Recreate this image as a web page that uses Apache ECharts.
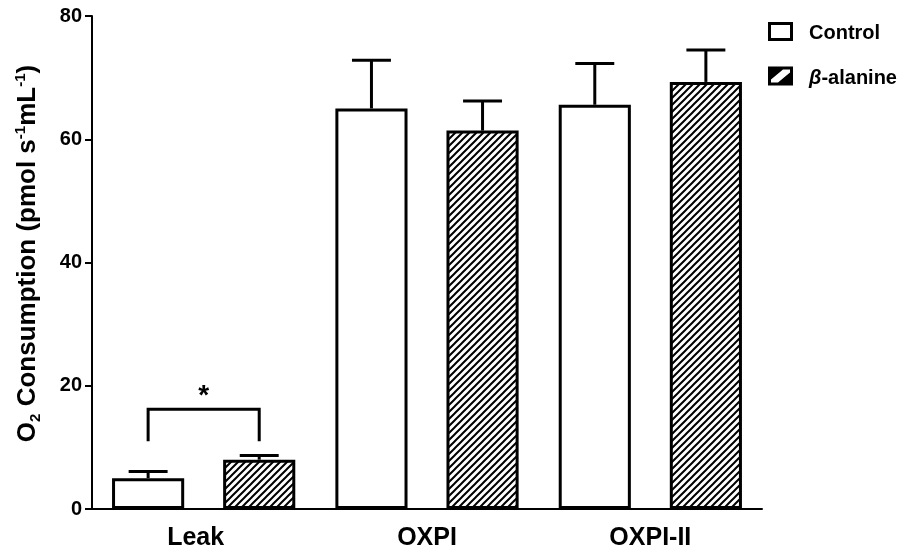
<!DOCTYPE html>
<html>
<head>
<meta charset="utf-8">
<script src="https://cdn.jsdelivr.net/npm/echarts@6/dist/echarts.min.js"></script>
<style>html,body{margin:0;padding:0;background:#fff;}#c{width:900px;height:552px;}</style>
</head>
<body>
<div id="c"></div>
<script>
// ---- data ----
const categories = ['Leak', 'OXPI', 'OXPI-II'];
const controlMean = [5.0, 65.0, 65.6];
const controlErrTop = [6.1, 72.8, 72.3];
const betaMean = [8.0, 61.4, 69.3];
const betaErrTop = [8.7, 66.2, 74.5];
const yTicks = [0, 20, 40, 60, 80];
const sigCategory = [0];
const sigBracketTop = [16.2];
const sigBracketLeg = [11.0];
const sigStarY = [18.3];
const sigLabel = ['*'];

// ---- layout ratios (style) ----
const BAR_RATIO = 0.323;
const GAP_RATIO = 0.54;
const CAP_RATIO = 0.54;

function hatch() {
  const s = 7;
  const cv = document.createElement('canvas');
  cv.width = s; cv.height = s;
  const g = cv.getContext('2d');
  g.fillStyle = '#fff'; g.fillRect(0, 0, s, s);
  g.strokeStyle = '#000'; g.lineWidth = 2;
  g.beginPath();
  g.moveTo(-1, s + 1); g.lineTo(s + 1, -1);
  g.moveTo(-1, 1); g.lineTo(1, -1);
  g.moveTo(s - 1, s + 1); g.lineTo(s + 1, s - 1);
  g.stroke();
  return cv;
}
const hatchPattern = { image: hatch(), repeat: 'repeat' };

function barOffset(api) {
  const band = api.size([1, 0])[0];
  const w = band * BAR_RATIO;
  return { off: (w + w * GAP_RATIO) / 2, cap: w * CAP_RATIO };
}

function errRender(sign) {
  return function (params, api) {
    const o = barOffset(api);
    const base = api.coord([api.value(0), api.value(1)]);
    const top = api.coord([api.value(0), api.value(2)]);
    const x = base[0] + sign * o.off;
    const st = { stroke: '#000', lineWidth: 3 };
    return {
      type: 'group',
      children: [
        { type: 'line', shape: { x1: x, y1: base[1], x2: x, y2: top[1] }, style: st },
        { type: 'line', shape: { x1: x - o.cap / 2, y1: top[1], x2: x + o.cap / 2, y2: top[1] }, style: st }
      ]
    };
  };
}

const controlErrData = categories.map((c, i) => [i, controlMean[i], controlErrTop[i]]);
const betaErrData = categories.map((c, i) => [i, betaMean[i], betaErrTop[i]]);
const sigData = sigCategory.map((c, i) => [c, sigBracketTop[i], sigBracketLeg[i], sigStarY[i]]);

const chart = echarts.init(document.getElementById('c'), null, { renderer: 'canvas' });
const FONT = 'Liberation Sans, Arial, Helvetica, sans-serif';

chart.setOption({
  backgroundColor: '#fff',
  animation: false,
  textStyle: { fontFamily: FONT },
  grid: { left: 92, right: 138, top: 16, bottom: 43, containLabel: false },
  legend: {
    orient: 'vertical',
    left: 763,
    top: 17,
    itemWidth: 25,
    itemHeight: 19,
    itemGap: 23,
    selectedMode: false,
    textStyle: {
      fontFamily: FONT, fontSize: 20, fontWeight: 'bold', color: '#000',
      padding: [4, 0, 0, 11],
      rich: { i: { fontFamily: FONT, fontSize: 20, fontWeight: 'bold', fontStyle: 'italic', color: '#000' } }
    },
    formatter: function (n) { return n === 'β-alanine' ? '{i|β}-alanine' : n; },
    data: [
      { name: 'Control', icon: 'path://M0,0H25V19H0ZM3,3V16H22V3Z', itemStyle: { color: '#000', borderWidth: 0 } },
      { name: 'β-alanine', icon: 'path://M0,0H25V19H0ZM3,3V16H22V3ZM3,3H15L3,13ZM22,16H10L22,6Z', itemStyle: { color: '#000', borderWidth: 0 } }
    ]
  },
  xAxis: {
    type: 'category',
    data: categories,
    axisLine: { show: true, lineStyle: { color: '#000', width: 2 } },
    axisTick: { show: false },
    axisLabel: {
      color: '#000', fontSize: 25, fontWeight: 'bold', fontFamily: FONT, margin: 17,
      formatter: function (v, i) { return i === 0 ? '{l|' + v + '}' : v; },
      rich: { l: { color: '#000', fontSize: 25, fontWeight: 'bold', fontFamily: FONT, padding: [0, 16, 0, 0] } }
    },
    splitLine: { show: false }
  },
  yAxis: {
    type: 'value',
    min: yTicks[0],
    max: yTicks[yTicks.length - 1],
    interval: yTicks[1] - yTicks[0],
    axisLine: { show: true, lineStyle: { color: '#000', width: 2 } },
    axisTick: { show: true, length: 7, lineStyle: { color: '#000', width: 2 } },
    axisLabel: { color: '#000', fontSize: 20, fontWeight: 'bold', fontFamily: FONT, margin: 10 },
    splitLine: { show: false },
    name: 'O{sub|2} Consumption (pmol s{sup|-1}mL{sup|-1})',
    nameLocation: 'middle',
    nameRotate: 90,
    nameGap: 49,
    nameTextStyle: {
      color: '#000', fontSize: 26, fontWeight: 'bold', fontFamily: FONT, lineHeight: 30,
      padding: [0, 0, 0, 18],
      rich: {
        sub: { fontSize: 15, fontWeight: 'bold', fontFamily: FONT, color: '#000', verticalAlign: 'bottom', lineHeight: 15 },
        sup: { fontSize: 15, fontWeight: 'bold', fontFamily: FONT, color: '#000', verticalAlign: 'top', lineHeight: 15 }
      }
    }
  },
  series: [
    {
      name: 'Control', type: 'bar', data: controlMean,
      barWidth: (BAR_RATIO * 100) + '%', barGap: (GAP_RATIO * 100) + '%',
      itemStyle: { color: '#fff', borderColor: '#000', borderWidth: 3 }
    },
    {
      name: 'β-alanine', type: 'bar', data: betaMean,
      barWidth: (BAR_RATIO * 100) + '%', barGap: (GAP_RATIO * 100) + '%',
      itemStyle: { color: hatchPattern, borderColor: '#000', borderWidth: 3 }
    },
    { type: 'custom', name: 'ctrlErr', data: controlErrData, renderItem: errRender(-1), z: 1, silent: true },
    { type: 'custom', name: 'betaErr', data: betaErrData, renderItem: errRender(1), z: 1, silent: true },
    {
      type: 'custom', name: 'sig', data: sigData, silent: true, z: 3,
      renderItem: function (params, api) {
        const o = barOffset(api);
        const topP = api.coord([api.value(0), api.value(1)]);
        const legP = api.coord([api.value(0), api.value(2)]);
        const starP = api.coord([api.value(0), api.value(3)]);
        const xl = topP[0] - o.off, xr = topP[0] + o.off;
        return {
          type: 'group',
          children: [
            { type: 'polyline', shape: { points: [[xl, legP[1]], [xl, topP[1]], [xr, topP[1]], [xr, legP[1]]] },
              style: { stroke: '#000', lineWidth: 3, fill: null } },
            { type: 'text', x: topP[0], y: starP[1],
              style: { text: sigLabel[params.dataIndex], font: 'bold 28px ' + FONT, fill: '#000', align: 'center', verticalAlign: 'middle' } }
          ]
        };
      }
    }
  ]
});
</script>
</body>
</html>
